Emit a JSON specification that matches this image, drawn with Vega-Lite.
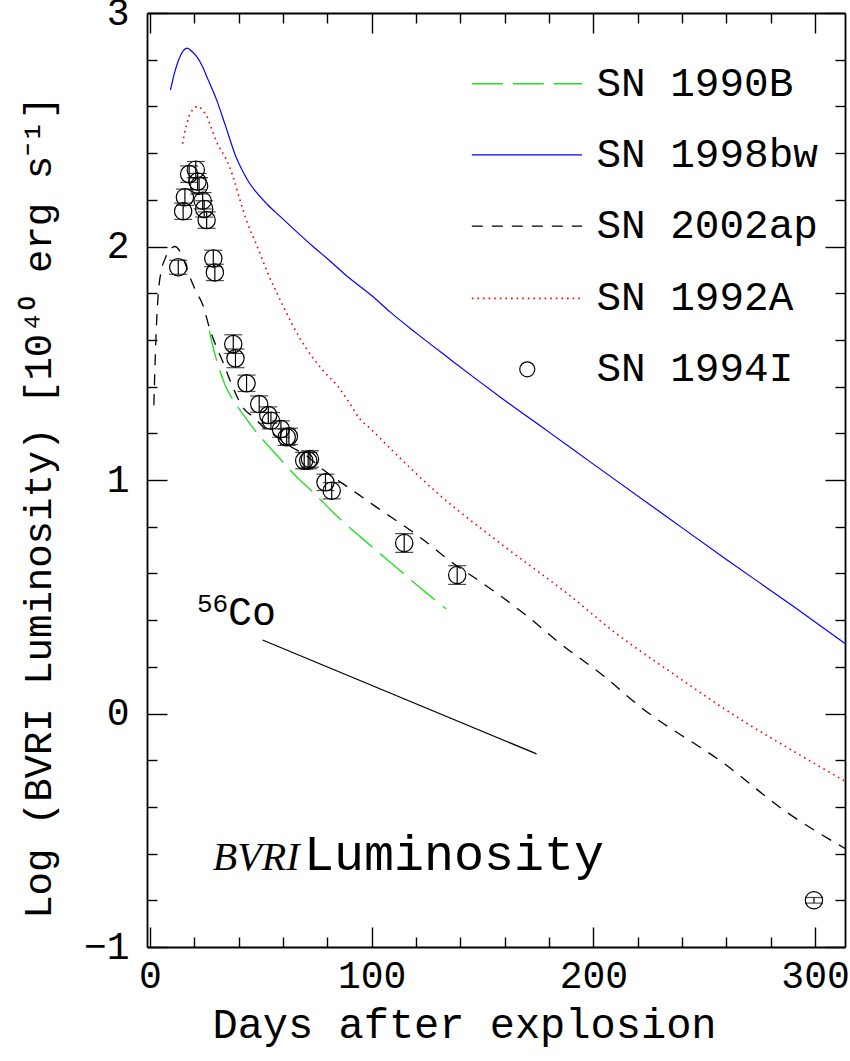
{
  "$schema": "https://vega.github.io/schema/vega-lite/v6.json",
  "width": 698,
  "height": 934,
  "autosize": {"type": "none"},
  "padding": {"left": 147, "top": 13, "right": 5, "bottom": 114},
  "background": "white",
  "config": {
    "view": {"stroke": null},
    "axis": {
      "grid": false,
      "labelFont": "Liberation Mono",
      "titleFont": "Liberation Mono",
      "labelColor": "black",
      "titleColor": "black",
      "domainColor": "black",
      "tickColor": "black",
      "titleFontWeight": "normal",
      "domainWidth": 1.8,
      "tickWidth": 1.4
    }
  },
  "datasets": {
    "bw98": [
      {"day": 9.3, "logL": 2.67, "part": "curve"},
      {"day": 11, "logL": 2.74, "part": "curve"},
      {"day": 13, "logL": 2.8, "part": "curve"},
      {"day": 15, "logL": 2.838, "part": "curve"},
      {"day": 16.8, "logL": 2.85, "part": "curve"},
      {"day": 19, "logL": 2.835, "part": "curve"},
      {"day": 21, "logL": 2.815, "part": "curve"},
      {"day": 23.5, "logL": 2.775, "part": "curve"},
      {"day": 26, "logL": 2.72, "part": "curve"},
      {"day": 30, "logL": 2.63, "part": "curve"},
      {"day": 34, "logL": 2.52, "part": "curve"},
      {"day": 39, "logL": 2.38, "part": "curve"},
      {"day": 42, "logL": 2.32, "part": "curve"},
      {"day": 45, "logL": 2.27, "part": "curve"},
      {"day": 48, "logL": 2.233, "part": "curve"},
      {"day": 53, "logL": 2.18, "part": "curve"},
      {"day": 58.6, "logL": 2.13, "part": "curve"},
      {"day": 66, "logL": 2.065, "part": "curve"},
      {"day": 73.6, "logL": 2.0, "part": "curve"},
      {"day": 81, "logL": 1.94, "part": "curve"},
      {"day": 88.7, "logL": 1.875, "part": "curve"},
      {"day": 100, "logL": 1.79, "part": "curve"},
      {"day": 108.3, "logL": 1.72, "part": "curve"},
      {"day": 120, "logL": 1.63, "part": "curve"},
      {"day": 135, "logL": 1.52, "part": "curve"},
      {"day": 147, "logL": 1.433, "part": "curve"},
      {"day": 159, "logL": 1.348, "part": "curve"},
      {"day": 180, "logL": 1.205, "part": "curve"},
      {"day": 200, "logL": 1.068, "part": "curve"},
      {"day": 234.5, "logL": 0.833, "part": "curve"},
      {"day": 260, "logL": 0.66, "part": "curve"},
      {"day": 290, "logL": 0.46, "part": "curve"},
      {"day": 313.5, "logL": 0.3, "part": "curve"},
      {"day": 145.2, "logL": 2.392, "part": "legend"},
      {"day": 194.9, "logL": 2.392, "part": "legend"}
    ],
    "a92": [
      {"day": 14.7, "logL": 2.44, "part": "curve"},
      {"day": 16.5, "logL": 2.52, "part": "curve"},
      {"day": 18.5, "logL": 2.575, "part": "curve"},
      {"day": 21.8, "logL": 2.6, "part": "curve"},
      {"day": 24, "logL": 2.58, "part": "curve"},
      {"day": 25.6, "logL": 2.56, "part": "curve"},
      {"day": 28, "logL": 2.5, "part": "curve"},
      {"day": 30, "logL": 2.45, "part": "curve"},
      {"day": 34.6, "logL": 2.37, "part": "curve"},
      {"day": 37.5, "logL": 2.3, "part": "curve"},
      {"day": 40.6, "logL": 2.2, "part": "curve"},
      {"day": 44, "logL": 2.1, "part": "curve"},
      {"day": 48, "logL": 2.01, "part": "curve"},
      {"day": 53, "logL": 1.89, "part": "curve"},
      {"day": 58.6, "logL": 1.775, "part": "curve"},
      {"day": 64, "logL": 1.67, "part": "curve"},
      {"day": 70.7, "logL": 1.561, "part": "curve"},
      {"day": 78, "logL": 1.47, "part": "curve"},
      {"day": 85.7, "logL": 1.39, "part": "curve"},
      {"day": 90, "logL": 1.33, "part": "curve"},
      {"day": 94, "logL": 1.27, "part": "curve"},
      {"day": 100, "logL": 1.215, "part": "curve"},
      {"day": 110, "logL": 1.12, "part": "curve"},
      {"day": 129.3, "logL": 0.947, "part": "curve"},
      {"day": 159.4, "logL": 0.719, "part": "curve"},
      {"day": 189.4, "logL": 0.505, "part": "curve"},
      {"day": 210, "logL": 0.345, "part": "curve"},
      {"day": 234.5, "logL": 0.18, "part": "curve"},
      {"day": 266.9, "logL": -0.028, "part": "curve"},
      {"day": 290, "logL": -0.16, "part": "curve"},
      {"day": 313.5, "logL": -0.29, "part": "curve"},
      {"day": 145.2, "logL": 1.778, "part": "legend"},
      {"day": 194.9, "logL": 1.778, "part": "legend"}
    ],
    "ap02": [
      {"day": 1.8, "logL": 1.32, "part": "curve"},
      {"day": 2.5, "logL": 1.55, "part": "curve"},
      {"day": 3.8, "logL": 1.8, "part": "curve"},
      {"day": 5, "logL": 1.89, "part": "curve"},
      {"day": 6.8, "logL": 1.946, "part": "curve"},
      {"day": 9, "logL": 1.985, "part": "curve"},
      {"day": 11.3, "logL": 2.0, "part": "curve"},
      {"day": 13.5, "logL": 1.98, "part": "curve"},
      {"day": 15.8, "logL": 1.93, "part": "curve"},
      {"day": 18, "logL": 1.87, "part": "curve"},
      {"day": 20.3, "logL": 1.818, "part": "curve"},
      {"day": 24, "logL": 1.746, "part": "curve"},
      {"day": 27, "logL": 1.647, "part": "curve"},
      {"day": 30, "logL": 1.57, "part": "curve"},
      {"day": 33, "logL": 1.504, "part": "curve"},
      {"day": 36, "logL": 1.43, "part": "curve"},
      {"day": 39.1, "logL": 1.361, "part": "curve"},
      {"day": 42, "logL": 1.31, "part": "curve"},
      {"day": 46.6, "logL": 1.27, "part": "curve"},
      {"day": 52, "logL": 1.22, "part": "curve"},
      {"day": 58.6, "logL": 1.176, "part": "curve"},
      {"day": 64, "logL": 1.14, "part": "curve"},
      {"day": 70.7, "logL": 1.104, "part": "curve"},
      {"day": 76, "logL": 1.06, "part": "curve"},
      {"day": 82.7, "logL": 1.012, "part": "curve"},
      {"day": 90, "logL": 0.965, "part": "curve"},
      {"day": 96, "logL": 0.925, "part": "curve"},
      {"day": 102, "logL": 0.885, "part": "curve"},
      {"day": 121.8, "logL": 0.755, "part": "curve"},
      {"day": 138, "logL": 0.635, "part": "curve"},
      {"day": 147.3, "logL": 0.576, "part": "curve"},
      {"day": 169.9, "logL": 0.419, "part": "curve"},
      {"day": 185, "logL": 0.3, "part": "curve"},
      {"day": 204.5, "logL": 0.162, "part": "curve"},
      {"day": 221, "logL": 0.03, "part": "curve"},
      {"day": 259.2, "logL": -0.216, "part": "curve"},
      {"day": 286.8, "logL": -0.42, "part": "curve"},
      {"day": 313.5, "logL": -0.578, "part": "curve"},
      {"day": 145.2, "logL": 2.087, "part": "legend"},
      {"day": 194.9, "logL": 2.087, "part": "legend"}
    ],
    "b90": [
      {"day": 26.8, "logL": 1.64, "part": "curve"},
      {"day": 29, "logL": 1.55, "part": "curve"},
      {"day": 31.6, "logL": 1.468, "part": "curve"},
      {"day": 34, "logL": 1.405, "part": "curve"},
      {"day": 36.8, "logL": 1.354, "part": "curve"},
      {"day": 39.8, "logL": 1.311, "part": "curve"},
      {"day": 44, "logL": 1.255, "part": "curve"},
      {"day": 48.1, "logL": 1.204, "part": "curve"},
      {"day": 54, "logL": 1.14, "part": "curve"},
      {"day": 60.1, "logL": 1.076, "part": "curve"},
      {"day": 66, "logL": 1.015, "part": "curve"},
      {"day": 72.9, "logL": 0.954, "part": "curve"},
      {"day": 85, "logL": 0.84, "part": "curve"},
      {"day": 99.2, "logL": 0.722, "part": "curve"},
      {"day": 112, "logL": 0.619, "part": "curve"},
      {"day": 124, "logL": 0.522, "part": "curve"},
      {"day": 133.6, "logL": 0.448, "part": "curve"},
      {"day": 145.2, "logL": 2.697, "part": "legend"},
      {"day": 194.9, "logL": 2.697, "part": "legend"}
    ],
    "i94": [
      {"day": 12.8, "logL": 1.911, "lo": 1.881, "hi": 1.941},
      {"day": 15.0, "logL": 2.151, "lo": 2.116, "hi": 2.186},
      {"day": 15.8, "logL": 2.211, "lo": 2.176, "hi": 2.246},
      {"day": 17.7, "logL": 2.31, "lo": 2.275, "hi": 2.345},
      {"day": 20.7, "logL": 2.329, "lo": 2.294, "hi": 2.364},
      {"day": 21.5, "logL": 2.278, "lo": 2.243, "hi": 2.313},
      {"day": 22.2, "logL": 2.26, "lo": 2.225, "hi": 2.295},
      {"day": 23.8, "logL": 2.196, "lo": 2.161, "hi": 2.231},
      {"day": 24.5, "logL": 2.161, "lo": 2.126, "hi": 2.196},
      {"day": 25.6, "logL": 2.113, "lo": 2.078, "hi": 2.148},
      {"day": 28.6, "logL": 1.949, "lo": 1.914, "hi": 1.984},
      {"day": 29.3, "logL": 1.889, "lo": 1.854, "hi": 1.924},
      {"day": 37.6, "logL": 1.582, "lo": 1.542, "hi": 1.622},
      {"day": 38.6, "logL": 1.521, "lo": 1.481, "hi": 1.561},
      {"day": 43.6, "logL": 1.414, "lo": 1.379, "hi": 1.449},
      {"day": 49.3, "logL": 1.325, "lo": 1.29, "hi": 1.36},
      {"day": 53.4, "logL": 1.278, "lo": 1.243, "hi": 1.313},
      {"day": 54.6, "logL": 1.254, "lo": 1.219, "hi": 1.289},
      {"day": 59.1, "logL": 1.218, "lo": 1.183, "hi": 1.253},
      {"day": 61.7, "logL": 1.183, "lo": 1.148, "hi": 1.218},
      {"day": 62.7, "logL": 1.187, "lo": 1.152, "hi": 1.222},
      {"day": 69.6, "logL": 1.083, "lo": 1.048, "hi": 1.118},
      {"day": 71.4, "logL": 1.083, "lo": 1.048, "hi": 1.118},
      {"day": 72.2, "logL": 1.09, "lo": 1.055, "hi": 1.125},
      {"day": 79.2, "logL": 0.99, "lo": 0.955, "hi": 1.025},
      {"day": 82.0, "logL": 0.954, "lo": 0.919, "hi": 0.989},
      {"day": 114.7, "logL": 0.73, "lo": 0.69, "hi": 0.77},
      {"day": 138.6, "logL": 0.593, "lo": 0.553, "hi": 0.633},
      {"day": 299.5, "logL": -0.8, "lo": -0.812, "hi": -0.788}
    ],
    "co": [
      {"day": 50.8, "logL": 0.315},
      {"day": 174.4, "logL": -0.173}
    ],
    "legtext": [
      {"day": 201.4, "logL": 2.697, "label": "SN 1990B"},
      {"day": 201.4, "logL": 2.392, "label": "SN 1998bw"},
      {"day": 201.4, "logL": 2.087, "label": "SN 2002ap"},
      {"day": 201.4, "logL": 1.778, "label": "SN 1992A"},
      {"day": 201.4, "logL": 1.474, "label": "SN 1994I"}
    ],
    "legpt": [
      {"day": 170.2, "logL": 1.474}
    ]
  },
  "resolve": {"axis": {"x": "independent", "y": "independent"}},
  "layer": [
    {
      "data": {"name": "bw98"},
      "mark": {"type": "line", "color": "#0000ff", "strokeWidth": 1.2, "interpolate": "monotone"},
      "encoding": {
        "x": {"field": "day", "type": "quantitative", "scale": {"domain": [-1.3, 313.5], "nice": false, "zero": false},
          "axis": {"orient": "bottom", "values": [0, 100, 200, 300], "ticks": false, "tickSize": 0, "labelFontSize": 38, "labelPadding": 10, "domain": true, "title": "Days after explosion", "titleFontSize": 42, "titleX": 317, "titleY": 90, "titleAlign": "center", "titleBaseline": "alphabetic", "labelFlush": false}},
        "y": {"field": "logL", "type": "quantitative", "scale": {"domain": [-1, 3], "nice": false, "zero": false},
          "axis": {"orient": "left", "values": [-1, 0, 1, 2, 3], "ticks": false, "tickSize": 0, "labelFontSize": 38, "labelPadding": 18, "domain": true, "title": "Log (BVRI Luminosity) [10⁴⁰ erg s⁻¹]", "titleFontSize": 39, "titleX": -109, "titleY": 494, "titleAlign": "center", "titleBaseline": "middle", "titleAngle": 270, "labelFlush": false}},
        "detail": {"field": "part"}
      }
    },
    {
      "data": {"name": "a92"},
      "mark": {"type": "line", "color": "#ff0000", "strokeWidth": 1.6, "strokeDash": [1.6, 4], "interpolate": "monotone"},
      "encoding": {
        "x": {"field": "day", "type": "quantitative", "scale": {"domain": [-1.3, 313.5], "nice": false, "zero": false},
          "axis": {"orient": "bottom", "values": [0, 100, 200, 300], "labels": false, "domain": false, "tickSize": -20, "title": null}},
        "y": {"field": "logL", "type": "quantitative", "scale": {"domain": [-1, 3], "nice": false, "zero": false},
          "axis": {"orient": "left", "values": [-1, 0, 1, 2, 3], "labels": false, "domain": false, "tickSize": -20, "title": null}},
        "detail": {"field": "part"}
      }
    },
    {
      "data": {"name": "ap02"},
      "mark": {"type": "line", "color": "black", "strokeWidth": 1.3, "strokeDash": [11, 9], "interpolate": "monotone"},
      "encoding": {
        "x": {"field": "day", "type": "quantitative", "scale": {"domain": [-1.3, 313.5], "nice": false, "zero": false},
          "axis": {"orient": "bottom", "values": [20, 40, 60, 80, 120, 140, 160, 180, 220, 240, 260, 280], "labels": false, "domain": false, "tickSize": -10, "title": null}},
        "y": {"field": "logL", "type": "quantitative", "scale": {"domain": [-1, 3], "nice": false, "zero": false},
          "axis": {"orient": "left", "values": [-0.8, -0.6, -0.4, -0.2, 0.2, 0.4, 0.6, 0.8, 1.2, 1.4, 1.6, 1.8, 2.2, 2.4, 2.6, 2.8], "labels": false, "domain": false, "tickSize": -10, "title": null}},
        "detail": {"field": "part"}
      }
    },
    {
      "data": {"name": "b90"},
      "mark": {"type": "line", "color": "#22e022", "strokeWidth": 1.4, "strokeDash": [31, 10], "interpolate": "monotone"},
      "encoding": {
        "x": {"field": "day", "type": "quantitative", "scale": {"domain": [-1.3, 313.5], "nice": false, "zero": false},
          "axis": {"orient": "top", "values": [0, 100, 200, 300], "labels": false, "domain": true, "tickSize": -20, "title": null}},
        "y": {"field": "logL", "type": "quantitative", "scale": {"domain": [-1, 3], "nice": false, "zero": false},
          "axis": {"orient": "right", "values": [-1, 0, 1, 2, 3], "labels": false, "domain": true, "tickSize": -20, "title": null}},
        "detail": {"field": "part"}
      }
    },
    {
      "data": {"name": "co"},
      "mark": {"type": "line", "color": "black", "strokeWidth": 1.2},
      "encoding": {
        "x": {"field": "day", "type": "quantitative", "scale": {"domain": [-1.3, 313.5], "nice": false, "zero": false},
          "axis": {"orient": "top", "values": [20, 40, 60, 80, 120, 140, 160, 180, 220, 240, 260, 280], "labels": false, "domain": false, "tickSize": -10, "title": null}},
        "y": {"field": "logL", "type": "quantitative", "scale": {"domain": [-1, 3], "nice": false, "zero": false},
          "axis": {"orient": "right", "values": [-0.8, -0.6, -0.4, -0.2, 0.2, 0.4, 0.6, 0.8, 1.2, 1.4, 1.6, 1.8, 2.2, 2.4, 2.6, 2.8], "labels": false, "domain": false, "tickSize": -10, "title": null}}
      }
    },
    {
      "data": {"name": "i94"},
      "mark": {"type": "rule", "color": "black", "strokeWidth": 1.2},
      "encoding": {
        "x": {"field": "day", "type": "quantitative", "axis": null},
        "y": {"field": "lo", "type": "quantitative", "axis": null},
        "y2": {"field": "hi"}
      }
    },
    {
      "data": {"name": "i94"},
      "mark": {"type": "tick", "orient": "horizontal", "color": "black", "size": 18, "thickness": 1.2},
      "encoding": {
        "x": {"field": "day", "type": "quantitative", "axis": null},
        "y": {"field": "lo", "type": "quantitative", "axis": null}
      }
    },
    {
      "data": {"name": "i94"},
      "mark": {"type": "tick", "orient": "horizontal", "color": "black", "size": 18, "thickness": 1.2},
      "encoding": {
        "x": {"field": "day", "type": "quantitative", "axis": null},
        "y": {"field": "hi", "type": "quantitative", "axis": null}
      }
    },
    {
      "data": {"name": "i94"},
      "mark": {"type": "point", "shape": "circle", "filled": false, "color": "black", "strokeWidth": 1.2, "size": 300, "opacity": 1},
      "encoding": {
        "x": {"field": "day", "type": "quantitative", "axis": null},
        "y": {"field": "logL", "type": "quantitative", "axis": null}
      }
    },
    {
      "data": {"name": "legpt"},
      "mark": {"type": "point", "shape": "circle", "filled": false, "color": "black", "strokeWidth": 1.2, "size": 225, "opacity": 1},
      "encoding": {
        "x": {"field": "day", "type": "quantitative", "axis": null},
        "y": {"field": "logL", "type": "quantitative", "axis": null}
      }
    },
    {
      "data": {"name": "legtext"},
      "mark": {"type": "text", "font": "Liberation Mono", "fontSize": 41, "align": "left", "baseline": "middle", "color": "black"},
      "encoding": {
        "x": {"field": "day", "type": "quantitative", "axis": null},
        "y": {"field": "logL", "type": "quantitative", "axis": null},
        "text": {"field": "label"}
      }
    },
    {
      "data": {"values": [{"day": 21.2, "logL": 0.434, "label": "56"}]},
      "mark": {"type": "text", "font": "Liberation Mono", "fontSize": 26, "align": "left", "baseline": "alphabetic", "color": "black"},
      "encoding": {
        "x": {"field": "day", "type": "quantitative", "axis": null},
        "y": {"field": "logL", "type": "quantitative", "axis": null},
        "text": {"field": "label"}
      }
    },
    {
      "data": {"values": [{"day": 35.2, "logL": 0.378, "label": "Co"}]},
      "mark": {"type": "text", "font": "Liberation Mono", "fontSize": 40, "align": "left", "baseline": "alphabetic", "color": "black"},
      "encoding": {
        "x": {"field": "day", "type": "quantitative", "axis": null},
        "y": {"field": "logL", "type": "quantitative", "axis": null},
        "text": {"field": "label"}
      }
    },
    {
      "data": {"values": [{"day": 28.4, "logL": -0.672, "label": "BVRI"}]},
      "mark": {"type": "text", "font": "Liberation Serif", "fontStyle": "italic", "fontSize": 40, "align": "left", "baseline": "alphabetic", "color": "black"},
      "encoding": {
        "x": {"field": "day", "type": "quantitative", "axis": null},
        "y": {"field": "logL", "type": "quantitative", "axis": null},
        "text": {"field": "label"}
      }
    },
    {
      "data": {"values": [{"day": 69.5, "logL": -0.672, "label": "Luminosity"}]},
      "mark": {"type": "text", "font": "Liberation Mono", "fontSize": 50, "align": "left", "baseline": "alphabetic", "color": "black"},
      "encoding": {
        "x": {"field": "day", "type": "quantitative", "axis": null},
        "y": {"field": "logL", "type": "quantitative", "axis": null},
        "text": {"field": "label"}
      }
    }
  ]
}
